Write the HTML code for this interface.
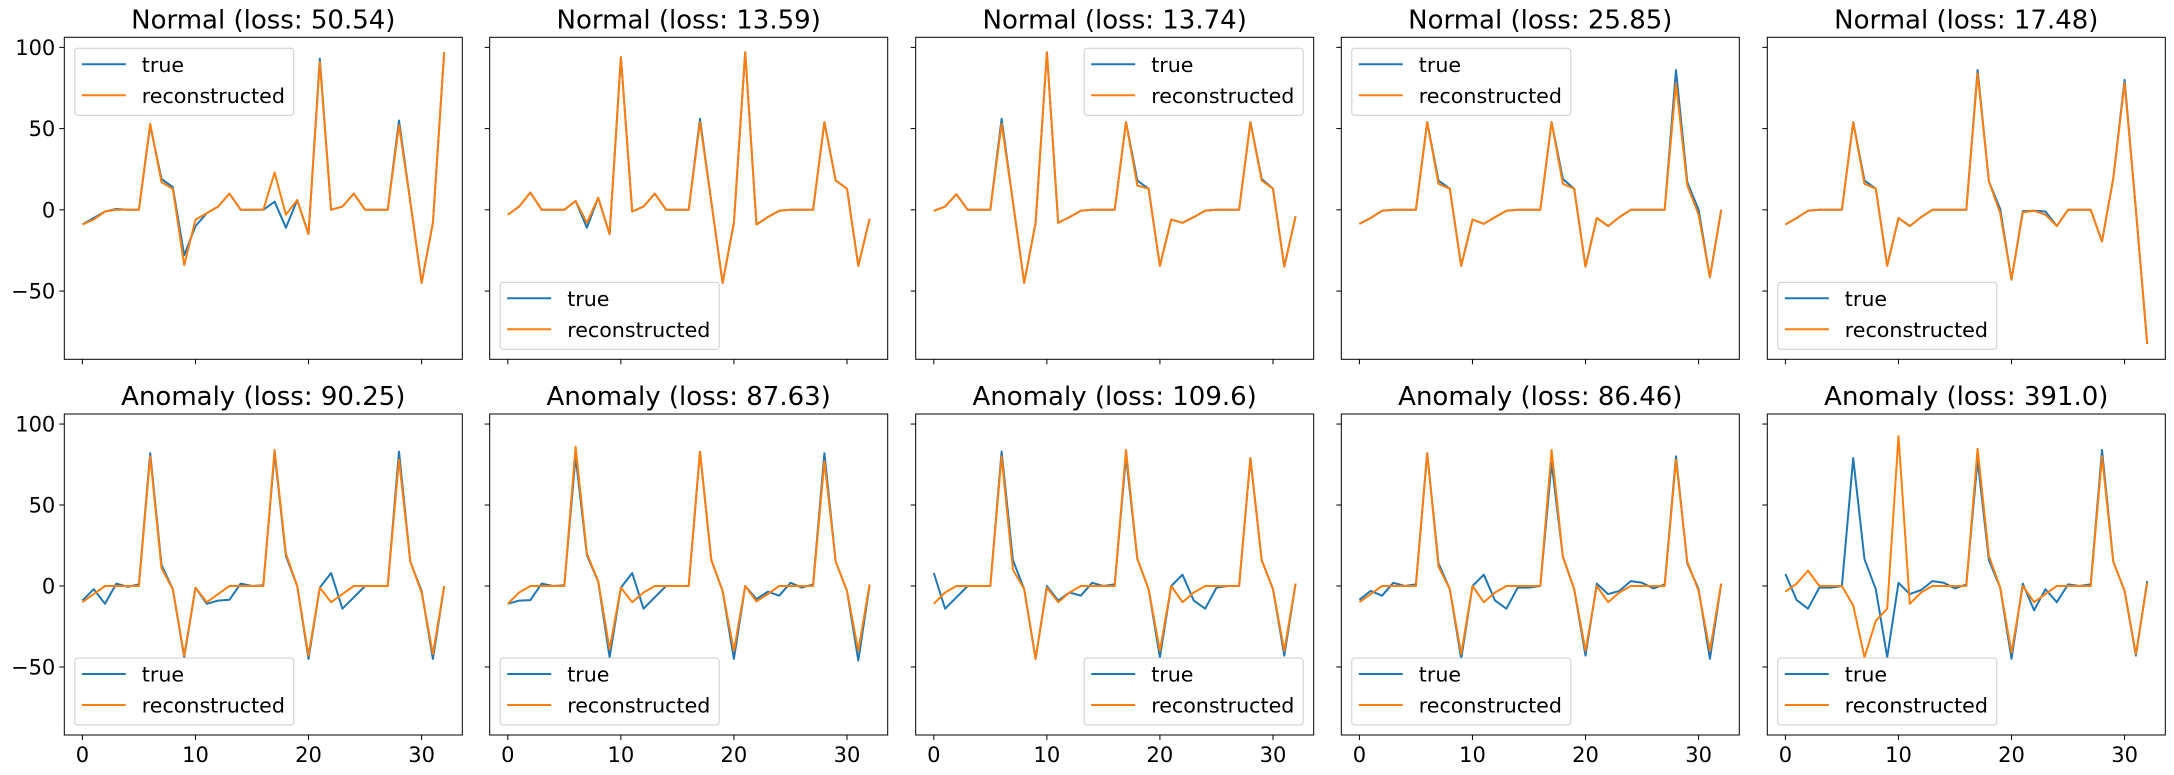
<!DOCTYPE html>
<html><head><meta charset="utf-8">
<style>
html,body{margin:0;padding:0;background:#fff;}
svg{display:block;font-family:"DejaVu Sans","Liberation Sans",sans-serif;}
</style></head>
<body>
<svg id="fig" width="2174" height="775" viewBox="0 0 2174 775" xmlns="http://www.w3.org/2000/svg"></svg>
<script>
const titles = ["Normal (loss: 50.54)","Normal (loss: 13.59)","Normal (loss: 13.74)","Normal (loss: 25.85)","Normal (loss: 17.48)",
"Anomaly (loss: 90.25)","Anomaly (loss: 87.63)","Anomaly (loss: 109.6)","Anomaly (loss: 86.46)","Anomaly (loss: 391.0)"];
const legendLoc = ["ul","ll","ur","ul","ll","ll","ll","lr","ll","ll"];
const yTicks = [100,50,0,-50];
const xTicks = [0,10,20,30];
const trueVals = [
[-9,-5,-1,0.5,0,0,52,19,14,-28,-10,-2,2,10,0,0,0,5,-11,6,-15,93,0,2,10,0,0,0,55,5,-45,-8,97],
[-3,2,10.7,0,0,0,5.5,-11,7.5,-15,94,-1,2,10,0,0,0,56,5,-45,-8,97,-9,-4.5,-0.6,0,0,0,54,18,13,-34.5,-5.5],
[-0.6,2,9.6,0,0,0,56,5,-45,-8,97,-8,-4.5,-0.6,0,0,0,54,18,13,-34.5,-6,-8,-4.5,-0.5,0,0,0,54,19,13,-35,-4],
[-8.6,-5,-0.6,0,0,0,54,18,13,-34.5,-6,-8.6,-4.5,-0.6,0,0,0,54,19,13,-35,-5,-10,-4.5,0,0,0,0,86,17,0,-41.5,0],
[-9,-5,-0.6,0,0,0,54,18,13,-34.5,-5,-10,-4.5,0,0,0,0,86,17.5,0.5,-43,-0.8,-0.6,-1,-10,0,0,0,-19.5,19.5,80,0,-82.5],
[-9,-2,-11,1.5,-0.5,1,82,13,-2,-44,-1,-11,-9,-8.5,1.5,0,0.5,82,18.5,0,-45,-1,8,-14,-7,0,0,0,83,15,-3,-45,0],
[-11,-9,-8.7,1.5,0,0.5,80,19,2.7,-44,-1,8,-14,-7,0,0,0,83,16,-3,-45,0,-8,-3.5,-6,2,-1,1,82,15,-3,-46,0.5],
[8,-14,-7,0,0,0,83,16,-2,-45,0,-9,-4,-6,2,0,1,80,17,-2,-44,0,7,-9,-14,-1,0,0,79,16,-2,-43,1.5],
[-8.5,-3,-6,2,0,1,82,14,-2,-45,0,7,-9,-14,-1,-1,0,76,18,-2,-43,1.5,-5,-3,3,2,-1.5,1,80,14,-2,-45,1.5],
[7.4,-8.7,-14,-1,-1,0,79,16.5,-2,-44,2,-5,-2.5,3,2,-1.5,1,78,16,-1,-45,1.5,-15,-2,-10,1,0,1,84,15,-3,-43,3]
];
const reconVals = [
[-9,-6,-1,0,0,0,53,17,13,-34,-6,-2,2,10,0,0,0,23,-3,6,-15,91,0,2,10,0,0,0,52,5,-45,-8,97],
[-3,2,10.7,0,0,0,5.5,-8,7.5,-15,94,-1,2,10,0,0,0,54,5,-45,-8,97,-9,-4.5,-0.6,0,0,0,54,18,13,-34.5,-5.5],
[-0.6,2,9.6,0,0,0,53,5,-45,-8,97,-8,-4.5,-0.6,0,0,0,54,15,13,-34.5,-6,-8,-4.5,-0.5,0,0,0,54,18,13,-35,-4],
[-8.6,-5,-0.6,0,0,0,54,16,13,-34.5,-6,-8.6,-4.5,-0.6,0,0,0,54,16,13,-35,-5,-10,-4.5,0,0,0,0,78,15,-3,-41.5,0],
[-9,-5,-0.6,0,0,0,54,16,13,-34.5,-5,-10,-4.5,0,0,0,0,84,17.5,-2,-43,-1.5,-0.6,-3,-10,0,0,0,-19.5,19.5,78,0,-82.5],
[-10,-5,0,0,0,0,80,11,-2,-43,-1,-10,-5,0,0,0,0,84,20,0,-43,-1,-10,-5,0,0,0,0,78,15,-4,-42,0],
[-11,-4,0,0,0,0,86,20,3,-39,-1,-10,-4,0,0,0,0,83,16,-3,-40,0,-9.5,-5,0,0,0,0,77,15,-3,-40,1],
[-11,-4,0,0,0,0,80,10,-2,-45,-1,-10,-4,0,0,0,0,84,17,-2,-40,0,-10,-4,0,0,0,0,79,16,-2,-40,1.5],
[-10,-5,0,0,0,0,82,12,-2,-42,0,-10,-4,0,0,0,0,84,18,-2,-40,0,-10,-4,0,0,0,0,78,15,-3,-40,1.5],
[-3.5,1.5,9.5,0,0,0,-12,-44,-21.5,-14,92.5,-11,-4,0,0,0,0,84.7,18.6,-1,-41,0,-10,-5,0,0,0,0,80,15,-3,-42,2]
];

const NS = "http://www.w3.org/2000/svg";
const svg = document.getElementById('fig');
const X_MIN = -1.6, X_MAX = 33.6, Y_MIN = -92, Y_MAX = 106.2;
const lefts = [64.3, 489.7, 915.7, 1341.3, 1767.3];
const W = 398;
const rowTop = [37.3, 414], rowBot = [359.3, 735];
function mk(tag, attrs, parent){
  const e = document.createElementNS(NS, tag);
  for (const k in attrs) e.setAttribute(k, attrs[k]);
  (parent||svg).appendChild(e);
  return e;
}
for (let p = 0; p < 10; p++) {
  const row = p < 5 ? 0 : 1, col = p % 5;
  const L = lefts[col], T = rowTop[row], B = rowBot[row], H = B - T;
  const sx = v => L + (v - X_MIN) / (X_MAX - X_MIN) * W;
  const sy = v => B - (v - Y_MIN) / (Y_MAX - Y_MIN) * H;
  const g = mk('g', {});
  
  
  const t = mk('text', {x: L + W/2, y: T - 9, 'text-anchor':'middle', 'font-size':'26', fill:'#000'}, g);
  t.textContent = titles[p];
  
  
  yTicks.forEach(v => {
    const y = sy(v);
    const tk = mk('line', {x1: L-5, x2: L, y1: y, y2: y, stroke:'#000', 'stroke-width':1}, g);
    
    
    if (col === 0) {
      const tl = mk('text', {x: L-9, y: y+7.5, 'text-anchor':'end', 'font-size':'21', fill:'#000'}, g);
      tl.textContent = v < 0 ? '\u2212' + Math.abs(v) : String(v);
      
      
    }
  });
  xTicks.forEach(v => {
    const x = sx(v);
    const tk = mk('line', {x1: x, x2: x, y1: B, y2: B+5, stroke:'#000', 'stroke-width':1}, g);
    
    
    if (row === 1) {
      const tl = mk('text', {x: x, y: B+27, 'text-anchor':'middle', 'font-size':'21', fill:'#000'}, g);
      tl.textContent = String(v);
      
      
    }
  });
  const clipId = 'clip' + p;
  const cp = mk('clipPath', {id: clipId}, g);
  mk('rect', {x: L, y: T, width: W, height: H}, cp);
  const series = [[trueVals[p], '#1f77b4', 'true-line'], [reconVals[p], '#ff7f0e', 'reconstructed-line']];
  series.forEach(([vals, color, name]) => {
    const pts = vals.map((v, i) => sx(i).toFixed(1) + ',' + sy(v).toFixed(1)).join(' ');
    const pl = mk('polyline', {points: pts, fill:'none', stroke: color, 'stroke-width': 2, 'stroke-linejoin':'round', 'clip-path': 'url(#' + clipId + ')'}, g);
    
    
  });
  const frame = mk('rect', {x: L, y: T, width: W, height: H, fill:'none', stroke:'#000', 'stroke-width':1}, g);
  
  
  const lw = 219, lh = 67;
  const loc = legendLoc[p];
  const lx = loc[1] === 'l' ? L + 10.5 : L + W - 10.5 - lw;
  const ly = loc[0] === 'u' ? T + 11 : B - 10 - lh;
  const lg = mk('g', {}, g);
  
  
  mk('rect', {x: lx, y: ly, width: lw, height: lh, rx: 3, fill:'#fff', 'fill-opacity':0.8, stroke:'#ccc', 'stroke-width':1}, lg);
  [['true','#1f77b4'],['reconstructed','#ff7f0e']].forEach(([lab, c], i) => {
    const yy = ly + 16 + i * 31;
    const ln = mk('line', {x1: lx+7, x2: lx+51, y1: yy, y2: yy, stroke: c, 'stroke-width': 2}, lg);
    
    
    const tx = mk('text', {x: lx+67, y: yy+7.5, 'font-size':'20.6', fill:'#000'}, lg);
    tx.textContent = lab;
    
    
  });
}
</script>
</body></html>
